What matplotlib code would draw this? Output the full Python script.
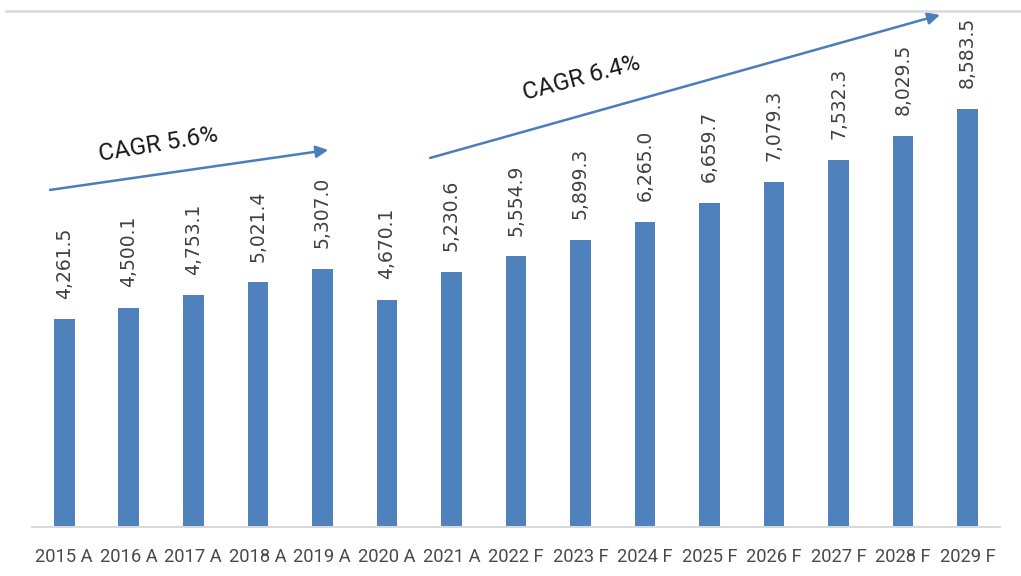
import matplotlib
matplotlib.use('Agg')
import matplotlib.pyplot as plt
from matplotlib.lines import Line2D

# data
years = ['2015 A', '2016 A', '2017 A', '2018 A', '2019 A', '2020 A', '2021 A',
         '2022 F', '2023 F', '2024 F', '2025 F', '2026 F', '2027 F', '2028 F', '2029 F']
values = [4261.5, 4500.1, 4753.1, 5021.4, 5307.0, 4670.1, 5230.6,
          5554.9, 5899.3, 6265.0, 6659.7, 7079.3, 7532.3, 8029.5, 8583.5]
cagr_labels = ['CAGR 5.6%', 'CAGR 6.4%']

bar_color = '#4F81BD'
arrow_color = '#4A7EBB'

fig = plt.figure(figsize=(10.21, 5.76), dpi=100)
ax = fig.add_axes([0.0313, 0.0851, 0.9481, 0.8959])

x = list(range(len(years)))
ax.bar(x, values, width=0.32, color=bar_color, zorder=2)

for xi, v in zip(x, values):
    ax.annotate(f'{v:,.1f}', (xi, v), xytext=(0, 15), textcoords='offset points',
                rotation=90, ha='center', va='bottom', fontsize=13.5,
                color='#404040', family='DejaVu Sans')

ax.set_xlim(-0.5, len(years) - 0.5)
ax.set_ylim(0, 10595)
ax.set_xticks(x)
ax.set_xticklabels(years, fontsize=13.2, color='#4a4a4a', family='Roboto')
ax.tick_params(axis='x', length=0, pad=15)
ax.set_yticks([])
for s in ['top', 'left', 'right']:
    ax.spines[s].set_visible(False)
ax.spines['bottom'].set_color('#d9d9d9')
ax.spines['bottom'].set_linewidth(1.5)

# CAGR arrows
ax.annotate('', xy=(4.09, 7741), xytext=(-0.22, 6920),
            arrowprops=dict(arrowstyle='-|>', color=arrow_color, lw=1.8,
                            mutation_scale=18, shrinkA=0, shrinkB=0),
            annotation_clip=False)
ax.annotate('', xy=(13.57, 10513), xytext=(5.67, 7577),
            arrowprops=dict(arrowstyle='-|>', color=arrow_color, lw=1.8,
                            mutation_scale=18, shrinkA=0, shrinkB=0),
            annotation_clip=False)
ax.text(1.46, 7844, cagr_labels[0], rotation=9.5, ha='center', va='center',
        fontsize=17.5, color='#1a1a1a', family='Roboto', rotation_mode='anchor')
ax.text(8.02, 9220, cagr_labels[1], rotation=15, ha='center', va='center',
        fontsize=17.5, color='#1a1a1a', family='Roboto', rotation_mode='anchor')

# grey border line at the top
fig.add_artist(Line2D([6 / 1021, 1.0], [1 - 11 / 576, 1 - 11 / 576],
                      color='#d9d9d9', lw=1.8))

fig.savefig('out.png', dpi=100)
